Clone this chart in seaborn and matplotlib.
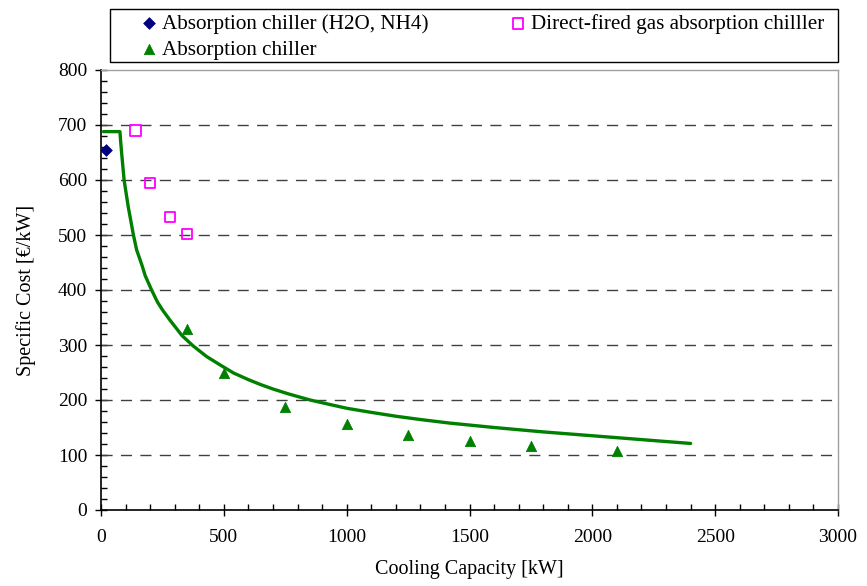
import matplotlib
matplotlib.use("Agg")
import matplotlib.pyplot as plt
import seaborn as sns
import pandas as pd
from matplotlib.ticker import MultipleLocator
from matplotlib.patches import Rectangle

# ---- data ----
h2o_x = [20]
h2o_y = [655]

gas_x = [140, 200, 280, 350]
gas_y = [690, 595, 533, 502]

abs_x = [350, 500, 750, 1000, 1250, 1500, 1750, 2100]
abs_y = [330, 250, 187, 156, 137, 125, 116, 107]

curve_x = [10, 77, 80, 84, 94, 111, 132, 145, 166, 180, 206, 230, 250, 281, 330, 376,
           430, 484, 540, 600, 650, 700, 760, 851, 920, 1000, 1100, 1200, 1300,
           1420, 1600, 1800, 2000, 2200, 2400]
curve_y = [688, 688, 670, 649, 600, 551, 500, 473, 446, 426, 400, 378, 364, 345, 317, 298,
           279, 264, 249, 237, 228, 220, 211.5, 200, 193, 185, 177.5, 170.5, 164.5,
           158, 150, 142, 135, 128, 121]

label_h2o = "Absorption chiller (H2O, NH4)"
label_gas = "Direct-fired gas absorption chilller"
label_abs = "Absorption chiller"
xlabel = "Cooling Capacity [kW]"
ylabel = "Specific Cost [€/kW]"

sns.set_theme(style="ticks")
plt.rcParams["font.family"] = ["Liberation Serif", "DejaVu Serif"]
plt.rcParams["text.color"] = "black"
plt.rcParams["axes.labelcolor"] = "black"
plt.rcParams["xtick.color"] = "black"
plt.rcParams["ytick.color"] = "black"

W, H = 867, 586
fig = plt.figure(figsize=(W/100, H/100), dpi=100)
ax = fig.add_axes([101/W, 1-510/H, 737/W, 440/H])

df_curve = pd.DataFrame({"x": curve_x, "y": curve_y})
sns.lineplot(data=df_curve, x="x", y="y", ax=ax, color="#008000", lw=2.4,
             sort=False, estimator=None, legend=False)

sns.scatterplot(x=h2o_x, y=h2o_y, ax=ax, marker="D", s=36, color="#000080",
                edgecolor="#000080", label=label_h2o, zorder=5)
sns.scatterplot(x=abs_x, y=abs_y, ax=ax, marker="^", s=55, color="#008000",
                edgecolor="#008000", label=label_abs, zorder=5)
sns.scatterplot(x=gas_x, y=gas_y, ax=ax, marker="s", s=55, facecolor="none",
                edgecolor="#FF00FF", linewidth=1.3, label=label_gas, zorder=5)

handles, labels = ax.get_legend_handles_labels()
if ax.get_legend() is not None:
    ax.get_legend().remove()

ax.set_xlim(0, 3000)
ax.set_ylim(0, 800)
ax.xaxis.set_major_locator(MultipleLocator(500))
ax.xaxis.set_minor_locator(MultipleLocator(100))
ax.yaxis.set_major_locator(MultipleLocator(100))
ax.yaxis.set_minor_locator(MultipleLocator(20))

for yv in range(100, 800, 100):
    ax.axhline(yv, color="#404040", lw=1.0, ls=(0, (8, 6)), zorder=1)

ax.tick_params(axis="both", which="major", direction="inout", length=8,
               width=1, color="black", labelsize=14, pad=6)
ax.tick_params(axis="both", which="minor", direction="in", length=4,
               width=1, color="black")
ax.tick_params(axis="x", which="major", pad=10)

for side in ["left", "bottom"]:
    ax.spines[side].set_color("black")
    ax.spines[side].set_linewidth(1.2)
for side in ["right", "top"]:
    ax.spines[side].set_color("#a0a0a0")
    ax.spines[side].set_linewidth(1.0)

ax.set_xlabel(xlabel, fontsize=14.5, labelpad=10)
ax.set_ylabel(ylabel, fontsize=14.5, labelpad=16)

# legend box (drawn as a rectangle in figure pixels)
fig.patches.append(Rectangle((110/W, 1-62/H), 728/W, 53/H, transform=fig.transFigure,
                             facecolor="white", edgecolor="black", lw=1.0, zorder=0))

order = [labels.index(label_h2o), labels.index(label_abs), labels.index(label_gas)]
lh = [handles[i] for i in order]
ll = [labels[i] for i in order]
fs = 15.2
fs_px = fs * 100 / 72
hl = 0.8
htp = 0.2
x0 = 149 - hl * fs_px / 2


def make_legend(colsp):
    return fig.legend(lh, ll, ncol=2, loc="upper left",
                      bbox_to_anchor=(x0/W, 1-14/H), frameon=False,
                      fontsize=fs, handletextpad=htp, handlelength=hl,
                      borderaxespad=0, borderpad=0, labelspacing=0.3,
                      columnspacing=colsp)


leg = make_legend(4.0)
fig.canvas.draw()
r = fig.canvas.get_renderer()
txt_right = leg.get_texts()[0].get_window_extent(r).x1
col2_start = 518 - hl * fs_px / 2
colsp = (col2_start - txt_right) / fs_px
leg.remove()
leg = make_legend(max(colsp, 0.5))

fig.savefig("out.png", dpi=100)
